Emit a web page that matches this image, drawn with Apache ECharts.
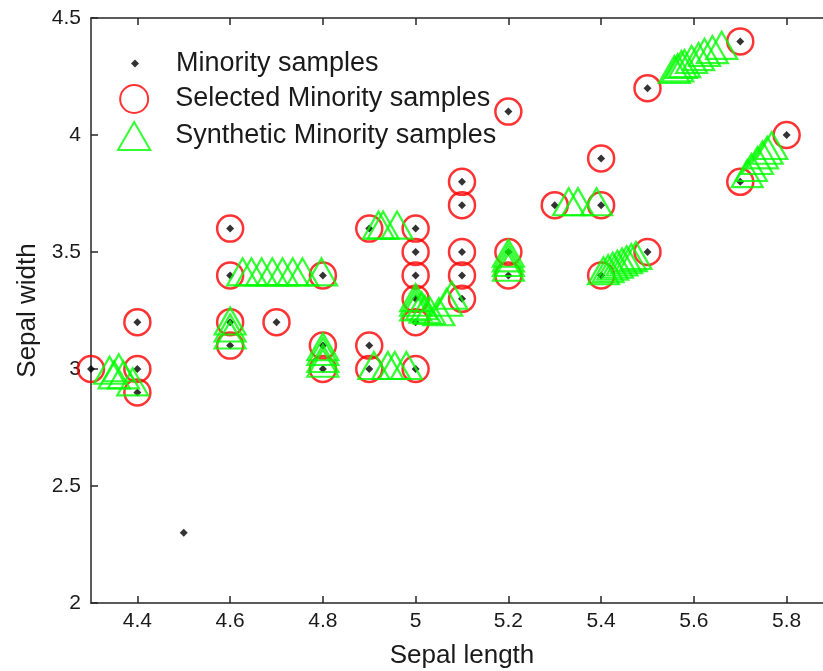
<!DOCTYPE html>
<html>
<head>
<meta charset="utf-8">
<script src="https://cdn.jsdelivr.net/npm/echarts@6/dist/echarts.min.js"></script>
<style>
  html, body { margin: 0; padding: 0; background: #fff; }
  #chart { width: 823px; height: 671px; }
</style>
</head>
<body>
<div id="chart"></div>
<script>
// 少数类样本 (iris setosa: sepal length / sepal width)
var minority = [
    [4.3, 3.0], [4.4, 2.9], [4.4, 3.0], [4.4, 3.2], [4.5, 2.3],
    [4.6, 3.1], [4.6, 3.2], [4.6, 3.4], [4.6, 3.6], [4.7, 3.2],
    [4.8, 3.0], [4.8, 3.1], [4.8, 3.4], [4.9, 3.0], [4.9, 3.1], [4.9, 3.6],
    [5.0, 3.0], [5.0, 3.2], [5.0, 3.3], [5.0, 3.4], [5.0, 3.5], [5.0, 3.6],
    [5.1, 3.3], [5.1, 3.4], [5.1, 3.5], [5.1, 3.7], [5.1, 3.8],
    [5.2, 3.4], [5.2, 3.5], [5.2, 4.1], [5.3, 3.7],
    [5.4, 3.4], [5.4, 3.7], [5.4, 3.9], [5.5, 3.5], [5.5, 4.2],
    [5.7, 3.8], [5.7, 4.4], [5.8, 4.0]
];

// 被选中的少数类样本
var selected = [
    [4.3, 3.0], [4.4, 2.9], [4.4, 3.0], [4.4, 3.2],
    [4.6, 3.1], [4.6, 3.2], [4.6, 3.4], [4.6, 3.6], [4.7, 3.2],
    [4.8, 3.0], [4.8, 3.1], [4.8, 3.4], [4.9, 3.0], [4.9, 3.1], [4.9, 3.6],
    [5.0, 3.0], [5.0, 3.2], [5.0, 3.3], [5.0, 3.4], [5.0, 3.5], [5.0, 3.6],
    [5.1, 3.3], [5.1, 3.4], [5.1, 3.5], [5.1, 3.7], [5.1, 3.8],
    [5.2, 3.4], [5.2, 3.5], [5.2, 4.1], [5.3, 3.7],
    [5.4, 3.4], [5.4, 3.7], [5.4, 3.9], [5.5, 3.5], [5.5, 4.2],
    [5.7, 3.8], [5.7, 4.4], [5.8, 4.0]
];

// 合成样本
var synthetic = [
    [4.34, 2.98], [4.36, 2.99], [4.35, 2.96], [4.37, 2.96], [4.39, 2.93],
    [4.6, 3.19], [4.6, 3.16], [4.6, 3.13],
    [4.8, 3.08], [4.8, 3.06], [4.8, 3.03], [4.8, 3.01],
    [4.627, 3.4], [4.646, 3.4], [4.668, 3.4], [4.691, 3.4], [4.713, 3.4], [4.735, 3.4], [4.756, 3.4], [4.797, 3.4],
    [4.92, 3.6], [4.93, 3.6], [4.96, 3.6],
    [4.91, 3.0], [4.94, 3.0], [4.955, 3.0], [4.98, 3.0],
    [5.0, 3.29], [5.0, 3.27], [5.0, 3.25], [5.013, 3.255], [5.02, 3.24], [5.03, 3.235], [5.05, 3.23], [5.067, 3.27], [5.078, 3.30],
    [5.2, 3.48], [5.2, 3.46], [5.2, 3.44], [5.2, 3.42],
    [5.33, 3.7], [5.35, 3.7], [5.39, 3.7],
    [5.405, 3.405], [5.415, 3.414], [5.425, 3.424], [5.435, 3.433], [5.445, 3.442], [5.455, 3.452], [5.465, 3.461], [5.475, 3.47],
    [5.558, 4.265], [5.565, 4.272], [5.573, 4.286], [5.58, 4.29], [5.595, 4.308], [5.61, 4.32], [5.623, 4.338], [5.64, 4.35], [5.66, 4.368],
    [5.715, 3.82], [5.724, 3.846], [5.737, 3.876], [5.748, 3.9], [5.758, 3.92], [5.768, 3.94]
];

var xTicks = [4.4, 4.6, 4.8, 5, 5.2, 5.4, 5.6, 5.8];

var axisColor = '#262626';
var textColor = '#1a1a1a';
var fontFamily = 'Liberation Sans, Arial, sans-serif';
var triPath = 'path://M0,-2L1.732,1L-1.732,1Z';
var diaPath = 'path://M0,-1L1,0L0,1L-1,0Z';

var myChart = echarts.init(document.getElementById('chart'));

function axisBase(show) {
    return {
        axisLine: { show: true, onZero: false, lineStyle: { color: axisColor, width: 1.5 } },
        axisTick: { show: true, inside: true, length: 7, lineStyle: { color: axisColor, width: 1.5 } },
        splitLine: { show: false },
        axisLabel: { show: show }
    };
}

var xBottom = axisBase(true);
xBottom.type = 'value';
xBottom.min = 4.3;
xBottom.max = 5.9;
xBottom.position = 'bottom';
xBottom.name = 'Sepal length';
xBottom.nameLocation = 'middle';
xBottom.nameGap = 40;
xBottom.nameTextStyle = { color: textColor, fontSize: 26, fontFamily: fontFamily };
xBottom.axisTick.customValues = xTicks;
xBottom.axisLabel = {
    show: true, customValues: xTicks, margin: 8,
    color: textColor, fontSize: 21, fontFamily: fontFamily,
    formatter: function (v) { return String(v); }
};

var xTop = axisBase(false);
xTop.type = 'value';
xTop.min = 4.3;
xTop.max = 5.9;
xTop.position = 'top';
xTop.axisTick.customValues = xTicks;

var yLeft = axisBase(true);
yLeft.type = 'value';
yLeft.min = 2;
yLeft.max = 4.5;
yLeft.interval = 0.5;
yLeft.position = 'left';
yLeft.name = 'Sepal width';
yLeft.nameLocation = 'middle';
yLeft.nameGap = 47;
yLeft.nameTextStyle = { color: textColor, fontSize: 26, fontFamily: fontFamily };
yLeft.axisLabel = { show: true, margin: 10, color: textColor, fontSize: 21, fontFamily: fontFamily };

var yRight = axisBase(false);
yRight.type = 'value';
yRight.min = 2;
yRight.max = 4.5;
yRight.interval = 0.5;
yRight.position = 'right';

var option = {
    backgroundColor: '#fff',
    animation: false,
    grid: { left: 91, top: 18, right: -10, bottom: 68, containLabel: false, outerBoundsMode: 'none' },
    legend: [{
        orient: 'vertical',
        left: 131,
        top: 50,
        padding: 0,
        itemWidth: 72,
        itemHeight: 8,
        itemGap: 0,
        textStyle: { color: textColor, fontSize: 27, fontFamily: fontFamily },
        data: [{ name: 'Minority samples', icon: diaPath }]
    }, {
        orient: 'vertical',
        left: 117,
        top: 84,
        padding: 0,
        itemWidth: 72,
        itemHeight: 28,
        itemGap: 7,
        textStyle: { color: textColor, fontSize: 27, fontFamily: fontFamily },
        data: [
            { name: 'Selected Minority samples', icon: 'circle' },
            { name: 'Synthetic Minority samples', icon: triPath }
        ]
    }],
    xAxis: [xBottom, xTop],
    yAxis: [yLeft, yRight],
    series: [{
        name: 'Minority samples',
        type: 'scatter',
        symbol: 'diamond',
        symbolSize: 8,
        itemStyle: { color: '#000' },
        data: minority,
        z: 3
    }, {
        name: 'Selected Minority samples',
        type: 'scatter',
        symbol: 'circle',
        symbolSize: 26,
        itemStyle: { color: 'transparent', borderColor: '#ff0000', borderWidth: 2.5 },
        data: selected,
        z: 2
    }, {
        name: 'Synthetic Minority samples',
        type: 'scatter',
        symbol: 'triangle',
        symbolSize: [31, 27],
        symbolOffset: [0, -3.5],
        itemStyle: { color: 'transparent', borderColor: '#00ff00', borderWidth: 2.2 },
        data: synthetic,
        z: 4
    }]
};

myChart.setOption(option);
</script>
</body>
</html>
